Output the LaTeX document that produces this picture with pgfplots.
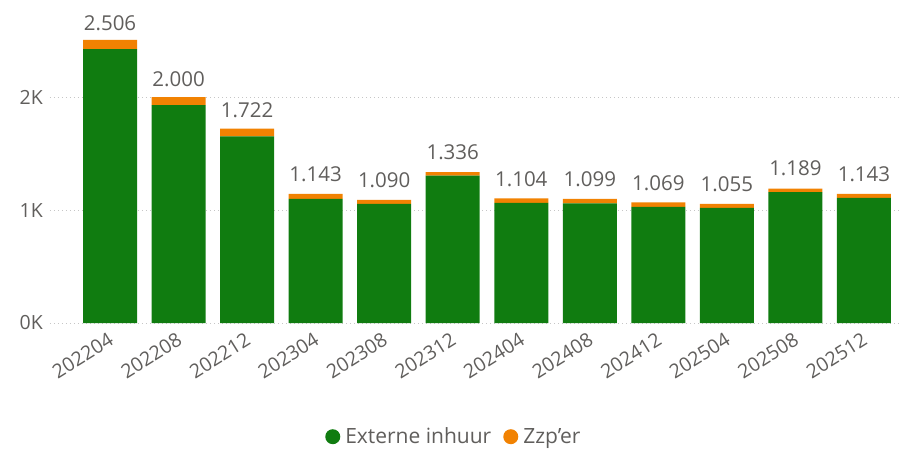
\documentclass[border=0pt]{standalone}
\usepackage{pgfplots}
\usepackage{pgfplotstable}
\pgfplotsset{compat=1.18}
\usepackage{fontspec}
\setmainfont{Open Sans}

\definecolor{cgreen}{RGB}{16,124,16}
\definecolor{corange}{RGB}{241,130,2}
\definecolor{cgray}{RGB}{96,94,92}

% externe inhuur, zzp'er, total label
\pgfplotstableread{
x green orange label
0  2426 80 2.506
1  1930 70 2.000
2  1652 70 1.722
3  1098 45 1.143
4  1055 35 1.090
5  1306 30 1.336
6  1064 40 1.104
7  1059 40 1.099
8  1029 40 1.069
9  1020 35 1.055
10 1159 30 1.189
11 1108 35 1.143
}\data

\begin{document}
\begin{tikzpicture}
\begin{axis}[
    scale only axis,
    width=852pt, height=323pt,
    ybar stacked,
    bar width=54pt,
    xmin=-0.876, xmax=11.555,
    ymin=0, ymax=2860,
    axis x line*=bottom, axis y line*=left,
    axis line style={draw=none},
    major tick length=0pt,
    xtick={0,...,11},
    xticklabels={202204,202208,202212,202304,202308,202312,202404,202408,202412,202504,202508,202512},
    xticklabel style={rotate=32, anchor=north east, font=\fontsize{19.5}{19.5}\selectfont, text=cgray, xshift=-6pt, yshift=-5pt, inner sep=1pt},
    ytick={0,1000,2000},
    yticklabels={0K,1K,2K},
    yticklabel style={font=\fontsize{19.5}{19.5}\selectfont, text=cgray, xshift=-6pt, inner sep=1pt},
    ymajorgrids,
    grid style={gray!45, line width=0.8pt, dash pattern=on 1pt off 3pt},
    legend style={at={(0.474,-0.352)}, anchor=center, draw=none, fill=none, inner sep=0pt,
        font=\fontsize{21}{21}\selectfont, text=cgray, legend columns=-1,
        /tikz/every odd column/.append style={column sep=3pt},
        /tikz/every even column/.append style={column sep=10pt}},
]
\addplot[fill=cgreen, draw=none,
    legend image code/.code={\fill[cgreen] (0.2em,0pt) circle (7.5pt);}]
    table[x=x, y=green] {\data};
\addlegendentry{Externe inhuur}
\addplot[fill=corange, draw=none,
    legend image code/.code={\fill[corange] (0.2em,0pt) circle (7.5pt);},
    nodes near coords,
    point meta=explicit symbolic,
    every node near coord/.append style={font=\fontsize{20.5}{20.5}\selectfont, text=cgray, anchor=south, yshift=13pt, inner sep=1pt}]
    table[x=x, y=orange, meta=label] {\data};
\addlegendentry{Zzp'er}
\end{axis}
\path (-50pt,-125pt) rectangle (858pt,323pt);
\end{tikzpicture}
\end{document}
